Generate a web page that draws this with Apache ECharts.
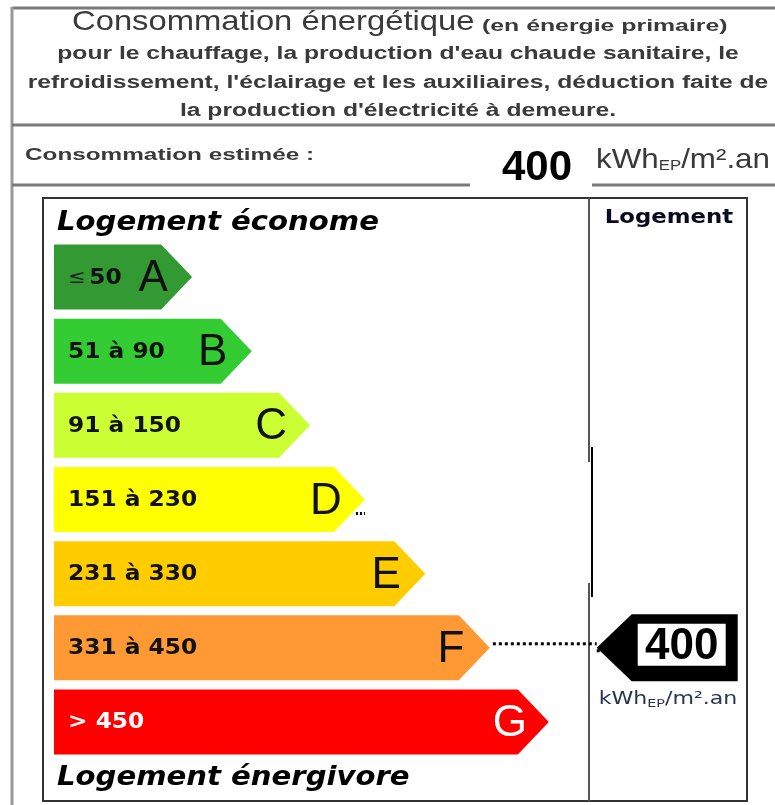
<!DOCTYPE html>
<html>
<head>
<meta charset="utf-8">
<script src="https://cdn.jsdelivr.net/npm/echarts@6/dist/echarts.min.js"></script>
<style>
  html, body { margin: 0; padding: 0; background: #fff; }
  #main { width: 775px; height: 805px; }
</style>
</head>
<body>
<div id="main"></div>
<script>
// classes du DPE
var classes = ['A', 'B', 'C', 'D', 'E', 'F', 'G'];
var ranges = ['≤ 50', '51 à 90', '91 à 150', '151 à 230', '231 à 330', '331 à 450', '> 450'];
var colors = ['#339933', '#33cc33', '#ccff33', '#ffff00', '#ffcc00', '#ff9933', '#ff0000'];
// longueur des flèches (unités arbitraires, 0-100)
var barLength = [19.9, 28.5, 36.9, 44.8, 53.5, 62.8, 71.3];
var consommation = 400;
var classeLogement = 5; // F
var markerPos = 78.2;

var myChart = echarts.init(document.getElementById('main'));

function renderArrow(params, api) {
    var idx = api.value(1);
    var start = api.coord([0, idx]);
    var tip = api.coord([api.value(0), idx]);
    var h = api.size([0, 1])[1] * 0.877;
    var top = tip[1] - h / 2, bottom = tip[1] + h / 2;
    var d = 31;
    var isG = idx === 6;
    var rich = {
        le: { fontFamily: 'DejaVu Sans', fontSize: 19, fill: '#222' },
        n: { fontFamily: 'DejaVu Sans', fontWeight: 'bold', fontSize: 21, fill: isG ? '#fff' : '#111' }
    };
    var txt = idx === 0 ? '{le|≤} {n|50}' : '{n|' + ranges[idx] + '}';
    var children = [{
        type: 'polygon',
        shape: { points: [[start[0], top], [tip[0] - d, top], [tip[0], tip[1]], [tip[0] - d, bottom], [start[0], bottom]] },
        style: { fill: colors[idx] }
    }, {
        type: 'text',
        x: start[0] + 14, y: tip[1] + 1, scaleX: 1.11,
        style: { text: txt, rich: rich, x: 0, y: 0, verticalAlign: 'middle', align: 'left' }
    }, {
        type: 'text',
        style: {
            text: classes[idx], x: tip[0] - 39, y: tip[1] + 2,
            align: 'center', verticalAlign: 'middle',
            fontFamily: 'Liberation Sans', fontSize: 44,
            fill: isG ? '#fff' : '#111'
        }
    }];
    if (idx === 3) {
        // petits points après le D
        children.push({
            type: 'line',
            shape: { x1: tip[0] - 9, y1: tip[1] + 14, x2: tip[0], y2: tip[1] + 14 },
            style: { stroke: '#000', lineWidth: 3, lineDash: [2, 2] }
        });
    }
    return { type: 'group', children: children };
}

function renderMarker(params, api) {
    var idx = api.value(1);
    var p = api.coord([api.value(0), idx]);
    var fTip = api.coord([barLength[idx], idx]);
    var h = 67, d = 35, w = 141;
    return {
        type: 'group',
        children: [{
            type: 'line',
            shape: { x1: fTip[0] + 3, y1: p[1] - 4, x2: p[0], y2: p[1] - 4 },
            style: { stroke: '#000', lineWidth: 3, lineDash: [3, 3] }
        }, {
            type: 'line',
            shape: { x1: p[0], y1: p[1] + 3, x2: p[0] + 8, y2: p[1] + 3 },
            style: { stroke: '#000', lineWidth: 3, lineDash: [3, 2] }
        }, {
            type: 'polygon',
            shape: { points: [[p[0], p[1]], [p[0] + d, p[1] - h / 2], [p[0] + w, p[1] - h / 2], [p[0] + w, p[1] + h / 2], [p[0] + d, p[1] + h / 2]] },
            style: { fill: '#000' }
        }, {
            type: 'rect',
            shape: { x: p[0] + 41, y: p[1] - 24, width: 88, height: 42 },
            style: { fill: '#fff' }
        }, {
            type: 'text',
            style: {
                text: String(api.value(2)), x: p[0] + 85, y: p[1] - 1,
                align: 'center', verticalAlign: 'middle',
                fontFamily: 'Liberation Sans', fontWeight: 'bold', fontSize: 44, fill: '#000'
            }
        }]
    };
}

var headColor = '#3a3a3a';
var lineGray = '#7a7a7a';

function headLine(txt, y) {
    return {
        type: 'text', x: 398, y: y, scaleX: 1.37,
        style: { text: txt, x: 0, y: 0, align: 'center', verticalAlign: 'middle', fontFamily: 'Liberation Sans', fontWeight: 'bold', fontSize: 18, fill: headColor }
    };
}

myChart.setOption({
    animation: false,
    grid: { left: 54, right: 27, top: 240, bottom: 46 },
    xAxis: { type: 'value', min: 0, max: 100, show: false },
    yAxis: { type: 'category', data: classes, inverse: true, show: false },
    graphic: [
        // cadre en-tête
        { type: 'line', shape: { x1: 12, y1: 8, x2: 775, y2: 8 }, style: { stroke: lineGray, lineWidth: 3 } },
        { type: 'line', shape: { x1: 12, y1: 7, x2: 12, y2: 805 }, style: { stroke: '#999', lineWidth: 3 } },
        { type: 'line', shape: { x1: 12, y1: 125, x2: 775, y2: 125 }, style: { stroke: lineGray, lineWidth: 3 } },
        { type: 'line', shape: { x1: 12, y1: 185, x2: 775, y2: 185 }, style: { stroke: lineGray, lineWidth: 3 } },
        { type: 'rect', shape: { x: 470, y: 128, width: 122, height: 62 }, style: { fill: '#fff' } },
        {
            type: 'text', x: 72, y: 22, scaleX: 1.17,
            style: { text: 'Consommation énergétique', x: 0, y: 0, align: 'left', verticalAlign: 'middle', fontFamily: 'Liberation Sans', fontSize: 28, fill: headColor }
        },
        {
            type: 'text', x: 482, y: 26, scaleX: 1.46,
            style: { text: '(en énergie primaire)', x: 0, y: 0, align: 'left', verticalAlign: 'middle', fontFamily: 'Liberation Sans', fontWeight: 'bold', fontSize: 17, fill: headColor }
        },
        headLine('pour le chauffage, la production d\'eau chaude sanitaire, le', 54),
        headLine('refroidissement, l\'éclairage et les auxiliaires, déduction faite de', 83),
        headLine('la production d\'électricité à demeure.', 111),
        {
            type: 'text', x: 25, y: 155, scaleX: 1.43,
            style: { text: 'Consommation estimée :', x: 0, y: 0, align: 'left', verticalAlign: 'middle', fontFamily: 'Liberation Sans', fontWeight: 'bold', fontSize: 17, fill: headColor }
        },
        { type: 'text', x: 537, y: 168, style: { text: String(consommation), align: 'center', verticalAlign: 'middle', fontFamily: 'Liberation Sans', fontWeight: 'bold', fontSize: 42, fill: '#000' } },
        {
            type: 'text', x: 596, y: 160, scaleX: 1.12,
            style: {
                text: '{a|kWh}{b|EP}{a|/m².an}', x: 0, y: 0, align: 'left', verticalAlign: 'middle',
                rich: {
                    a: { fontFamily: 'Liberation Sans', fontSize: 28, fill: headColor },
                    b: { fontFamily: 'Liberation Sans', fontSize: 15, fill: headColor, padding: [12, 0, 0, 0] }
                }
            }
        },
        // cadre étiquette
        { type: 'rect', shape: { x: 43, y: 198, width: 704, height: 603 }, style: { fill: 'none', stroke: '#333', lineWidth: 2 } },
        { type: 'line', shape: { x1: 589, y1: 198, x2: 589, y2: 462 }, style: { stroke: '#555', lineWidth: 2 } },
        { type: 'line', shape: { x1: 589, y1: 583, x2: 589, y2: 801 }, style: { stroke: '#555', lineWidth: 2 } },
        { type: 'line', shape: { x1: 592, y1: 447, x2: 592, y2: 597 }, style: { stroke: '#000', lineWidth: 2 } },
        {
            type: 'text', x: 57, y: 223, scaleX: 1.12,
            style: { text: 'Logement économe', x: 0, y: 0, align: 'left', verticalAlign: 'middle', fontFamily: 'DejaVu Sans', fontWeight: 'bold', fontStyle: 'italic', fontSize: 26, fill: '#000' }
        },
        {
            type: 'text', x: 57, y: 778, scaleX: 1.12,
            style: { text: 'Logement énergivore', x: 0, y: 0, align: 'left', verticalAlign: 'middle', fontFamily: 'DejaVu Sans', fontWeight: 'bold', fontStyle: 'italic', fontSize: 26, fill: '#000' }
        },
        {
            type: 'text', x: 669, y: 218, scaleX: 1.2,
            style: { text: 'Logement', x: 0, y: 0, align: 'center', verticalAlign: 'middle', fontFamily: 'DejaVu Sans', fontWeight: 'bold', fontSize: 19, fill: '#0a0a1e' }
        },
        {
            type: 'text', x: 668, y: 700, scaleX: 1.3,
            style: {
                text: '{a|kWh}{b|EP}{a|/m².an}', x: 0, y: 0, align: 'center', verticalAlign: 'middle',
                rich: {
                    a: { fontFamily: 'DejaVu Sans', fontSize: 17, fill: '#2a3550' },
                    b: { fontFamily: 'DejaVu Sans', fontSize: 11, fill: '#2a3550', padding: [8, 0, 0, 0] }
                }
            }
        }
    ],
    series: [{
        type: 'custom',
        renderItem: renderArrow,
        encode: { x: 0, y: 1 },
        data: barLength.map(function (v, i) { return [v, i]; })
    }, {
        type: 'custom',
        renderItem: renderMarker,
        encode: { x: 0, y: 1 },
        data: [[markerPos, classeLogement, consommation]]
    }]
});

window.onresize = function () {
    myChart.resize();
};
</script>
</body>
</html>
